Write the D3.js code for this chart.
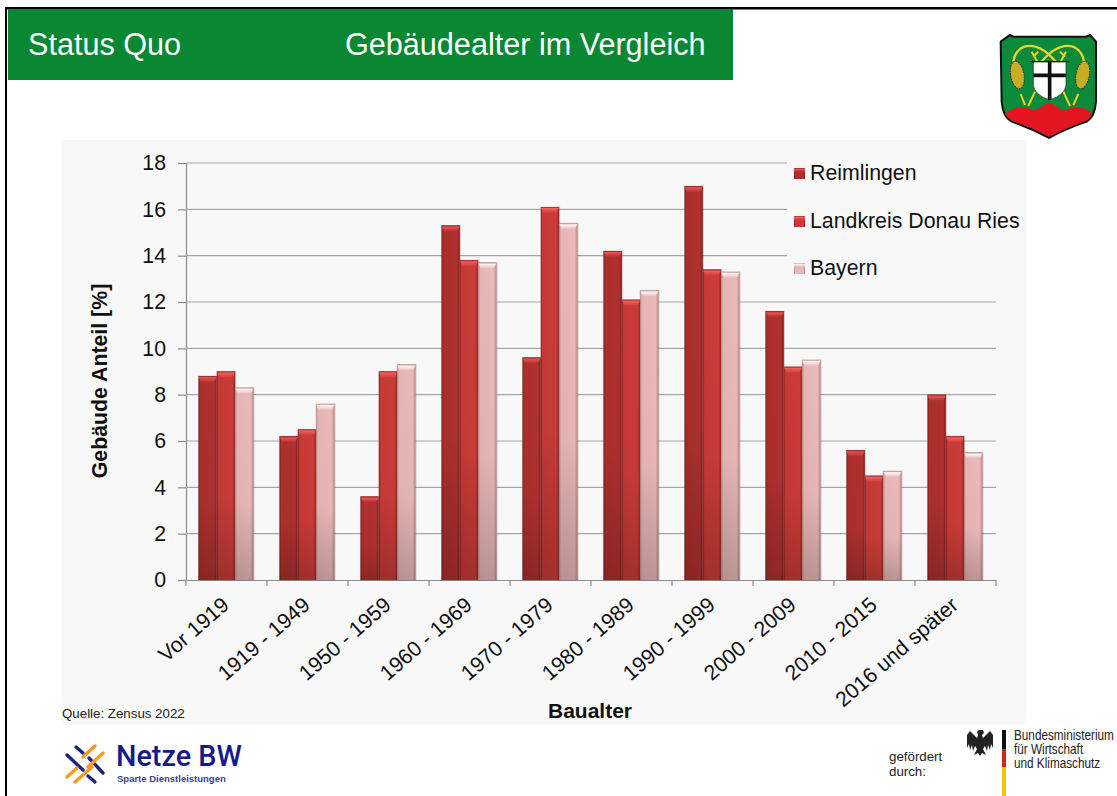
<!DOCTYPE html>
<html><head><meta charset="utf-8">
<script src="https://cdn.jsdelivr.net/npm/d3@7"></script>
<style>html,body{margin:0;padding:0;background:#fff;overflow:hidden}svg{display:block;font-family:"Liberation Sans",Arial,sans-serif}</style>
</head><body><div id="c"></div>
<script>
const categories=["Vor 1919","1919 - 1949","1950 - 1959","1960 - 1969","1970 - 1979","1980 - 1989","1990 - 1999","2000 - 2009","2010 - 2015","2016 und später"];
const seriesNames=["Reimlingen","Landkreis Donau Ries","Bayern"];
const reimlingen=[8.8,6.2,3.6,15.3,9.6,14.2,17.0,11.6,5.6,8.0];
const landkreis=[9.0,6.5,9.0,13.8,16.1,12.1,13.4,9.2,4.5,6.2];
const bayern=[8.3,7.6,9.3,13.7,15.4,12.5,13.3,9.5,4.7,5.5];
const yTicks=[0,2,4,6,8,10,12,14,16,18];
const allSeries=[reimlingen,landkreis,bayern];

const W=1117,H=796;
const svg=d3.select("#c").append("svg").attr("width",W).attr("height",H);
const defs=svg.append("defs");
const pal=[
 {edge:"#7d1f1e",mid:"#ab2f2c",light:"#b03130",top:"#e8524f",id:"a"},
 {edge:"#8f2322",mid:"#c63a36",light:"#cb3c38",top:"#f2605c",id:"b"},
 {edge:"#b98586",mid:"#e6b4b4",light:"#e9baba",top:"#fff4f4",id:"c"}];
pal.forEach(p=>{
  const g=defs.append("linearGradient").attr("id","g"+p.id).attr("x1",0).attr("x2",1).attr("y1",0).attr("y2",0);
  [[0,p.edge],[.1,p.mid],[.85,p.light],[1,p.edge]].forEach(s=>g.append("stop").attr("offset",s[0]).attr("stop-color",s[1]));
  const t=defs.append("linearGradient").attr("id","t"+p.id).attr("x1",0).attr("x2",0).attr("y1",0).attr("y2",1);
  t.append("stop").attr("offset",0).attr("stop-color",p.edge);
  t.append("stop").attr("offset",.25).attr("stop-color",p.top);
  t.append("stop").attr("offset",1).attr("stop-color",p.light);
});
const sh=defs.append("linearGradient").attr("id","shade").attr("x1",0).attr("x2",0).attr("y1",0).attr("y2",1);
sh.append("stop").attr("offset",0).attr("stop-color","#000").attr("stop-opacity",0);
sh.append("stop").attr("offset",.6).attr("stop-color","#000").attr("stop-opacity",.02);
sh.append("stop").attr("offset",1).attr("stop-color","#000").attr("stop-opacity",.2);

// frame
svg.append("rect").attr("x",5).attr("y",7).attr("width",W-5).attr("height",2.5).attr("fill","#000");
svg.append("rect").attr("x",5).attr("y",7).attr("width",2).attr("height",H-7).attr("fill","#000");
svg.append("rect").attr("x",8).attr("y",9).attr("width",725).attr("height",71).attr("fill","#0a8733");
svg.append("text").attr("x",28).attr("y",55).attr("fill","#fff").attr("font-size",30.6).text("Status Quo");
svg.append("text").attr("x",345).attr("y",55).attr("fill","#fff").attr("font-size",30.6).text("Gebäudealter im Vergleich");

// panel
svg.append("rect").attr("x",62).attr("y",140).attr("width",964).attr("height",585).attr("fill","#f8f8f8");

const x=d3.scaleBand().domain(categories).range([186,996]).paddingInner(0).paddingOuter(0);
const y=d3.scaleLinear().domain([0,18]).range([580,163]);
const xs=d3.scaleBand().domain(d3.range(3)).range([0,55]);

const gy=svg.append("g").attr("transform","translate(186,0)")
 .call(d3.axisLeft(y).tickValues(yTicks).tickSize(8).tickPadding(12).tickFormat(d3.format("d")));
gy.select(".domain").attr("stroke","#8c8c8c").attr("stroke-width",1.2);
gy.selectAll(".tick line").attr("stroke","#8c8c8c").attr("stroke-width",1.2);
gy.selectAll("text").attr("font-size",21.3).attr("fill","#111").attr("font-family","Liberation Sans");
svg.append("g").selectAll("line").data(yTicks.filter(d=>d>0)).join("line")
 .attr("x1",186).attr("x2",996).attr("y1",d=>y(d)).attr("y2",d=>y(d)).attr("stroke","#a6a6a6").attr("stroke-width",1.1);

// legend panel hides gridlines
svg.append("rect").attr("x",787).attr("y",150).attr("width",239).attr("height",135).attr("fill","#f8f8f8");

const gx=svg.append("g").attr("transform","translate(0,580)")
 .call(d3.axisBottom(x).tickSize(0).tickFormat(d=>d));
gx.select(".domain").attr("stroke","#8c8c8c").attr("stroke-width",1.2);
gx.selectAll(".tick text").attr("font-size",21.3).attr("fill","#111").attr("font-family","Liberation Sans")
 .attr("text-anchor","end").attr("dy",0).attr("y",0)
 .attr("transform","translate(4,27) rotate(-41)");
svg.append("g").selectAll("line").data(d3.range(11)).join("line")
 .attr("x1",i=>186+i*x.step()).attr("x2",i=>186+i*x.step()).attr("y1",580).attr("y2",586)
 .attr("stroke","#8c8c8c").attr("stroke-width",1.2);

// bars
const bars=svg.append("g");
allSeries.forEach((vals,si)=>{
  const p=pal[si];
  const g=bars.append("g");
  const bx=(c)=>x(c)+12.5+xs(si);
  g.selectAll("rect.shadow").data(categories).join("rect").attr("class","shadow")
   .attr("x",c=>bx(c)-.5).attr("width",xs.bandwidth()+1.5)
   .attr("y",(c,i)=>y(vals[i])-.5).attr("height",(c,i)=>580-y(vals[i])+1.5)
   .attr("fill","#8a6a6a").attr("opacity",.35);
  g.selectAll("rect.body").data(categories).join("rect").attr("class","body")
   .attr("x",bx).attr("width",xs.bandwidth())
   .attr("y",(c,i)=>y(vals[i])).attr("height",(c,i)=>580-y(vals[i]))
   .attr("fill","url(#g"+p.id+")");
  g.selectAll("rect.over").data(categories).join("rect").attr("class","over")
   .attr("x",bx).attr("width",xs.bandwidth())
   .attr("y",(c,i)=>y(vals[i])).attr("height",(c,i)=>580-y(vals[i]))
   .attr("fill","url(#shade)");
  g.selectAll("path.bevel").data(categories).join("path").attr("class","bevel")
   .attr("d",(c,i)=>{const l=bx(c),w=xs.bandwidth(),t=y(vals[i]);
     return `M${l},${t}H${l+w}L${l+w-2.5},${t+6}H${l+2.5}Z`;})
   .attr("fill","url(#t"+p.id+")");
});

// legend
const ly=[173,221,268];
const lg=svg.append("g").selectAll("g").data(seriesNames).join("g").attr("transform",(d,i)=>`translate(794,${ly[i]})`);
lg.append("rect").attr("x",0).attr("y",-5).attr("width",11).attr("height",11).attr("fill",(d,i)=>"url(#g"+pal[i].id+")");
lg.append("rect").attr("x",0).attr("y",-5).attr("width",11).attr("height",4).attr("fill",(d,i)=>"url(#t"+pal[i].id+")");
lg.append("text").attr("x",16).attr("y",7).attr("font-size",21.3).attr("fill","#111").text(d=>d);

// axis titles
svg.append("text").attr("transform","translate(107,381) rotate(-90)").attr("text-anchor","middle")
 .attr("font-size",21.3).attr("font-weight","bold").attr("fill","#111").text("Gebäude Anteil  [%]");
svg.append("text").attr("x",590).attr("y",718).attr("text-anchor","middle")
 .attr("font-size",21).attr("font-weight","bold").attr("fill","#111").text("Baualter");
svg.append("text").attr("x",62).attr("y",718).attr("font-size",13.3).attr("fill","#222").text("Quelle: Zensus 2022");

// coat of arms, drawn in a 3x space
const coa=svg.append("g").attr("transform","translate(980,20) scale(0.3333)");
coa.append("path").attr("d","M62,65 L90,45 L100,50 H318 L330,45 L348,65 V245 Q345,290 320,305 Q260,325 207,354 Q155,325 95,305 Q68,290 65,245Z").attr("fill","#0a8a3a").attr("stroke","#111").attr("stroke-width",6);
coa.append("path").attr("d","M76,284 C90,262 130,255 160,270 C175,273 190,250 207,250 C225,250 240,273 255,270 C285,255 325,262 336,284 Q328,296 318,302 Q260,322 207,350 Q155,322 97,302 Q84,296 76,284Z").attr("fill","#e3161f");
coa.append("path").attr("d","M100,125 C110,65 175,55 235,135 M312,125 C302,65 237,55 177,135").attr("fill","none").attr("stroke","#ecd22a").attr("stroke-width",7);
[[112,165,-10],[308,165,10]].forEach(e=>coa.append("ellipse").attr("cx",e[0]).attr("cy",e[1]).attr("rx",20).attr("ry",42).attr("transform",`rotate(${e[2]},${e[0]},${e[1]})`).attr("fill","#c6ad24").attr("stroke","#333").attr("stroke-width",3).attr("stroke-dasharray","5 3"));
coa.append("path").attr("d","M122,222 L135,255 M165,215 L145,258 M295,222 L280,255 M250,215 L270,258 M155,95 L172,125 M175,95 L160,110 M258,95 L242,125 M240,95 L255,110").attr("fill","none").attr("stroke","#ecd22a").attr("stroke-width",6);
coa.append("path").attr("d","M160,125 H258 V195 Q255,225 209,240 Q163,225 160,195Z").attr("fill","#fff").attr("stroke","#222").attr("stroke-width",2);
coa.append("path").attr("d","M209,125 V240 M160,166 H258").attr("stroke","#111").attr("stroke-width",11);
coa.append("path").attr("d","M150,125 H268").attr("stroke","#111").attr("stroke-width",4);

// Netze BW logo
const nzLines=[[76,747,83,753,"#1a237e"],[67,755,83,770,"#1a237e"],[89,758,103,773,"#1a237e"],[88,776,95,782,"#1a237e"],[83,757,95,746,"#f59a23"],[88,767,103,753,"#f59a23"],[67,777,77,768,"#f59a23"],[75,782,92,767,"#f59a23"]];
svg.append("g").selectAll("line").data(nzLines).join("line").attr("x1",d=>d[0]).attr("y1",d=>d[1]).attr("x2",d=>d[2]).attr("y2",d=>d[3]).attr("stroke",d=>d[4]).attr("stroke-width",3.4).attr("stroke-linecap","round");
svg.append("text").attr("x",116).attr("y",766).attr("font-size",28.8).attr("font-family","Roboto").attr("font-weight",500).attr("fill","#151a8a").text("Netze BW");
svg.append("text").attr("x",117).attr("y",782).attr("font-size",9.5).attr("font-weight","bold").attr("fill","#3a3f9a").text("Sparte Dienstleistungen");

// BMWK
svg.append("text").attr("x",889).attr("y",761).attr("font-size",13.3).attr("fill","#222").text("gefördert");
svg.append("text").attr("x",889).attr("y",776).attr("font-size",13.3).attr("fill","#222").text("durch:");
const eagle=svg.append("g").attr("transform","translate(980,742)");
eagle.append("path").attr("d","M-3,-10 L-1,-12 L3,-12 L4,-9 L2,-7 L3,-4 L8,-9 L10,-11 L13,-7 V6 L11,2 L10,8 L8,3 L7,9 L5,4 L3,7 L6,13 L2,11 L0,14 L-2,11 L-6,13 L-3,7 L-5,4 L-7,9 L-8,3 L-10,8 L-11,2 L-13,6 V-7 L-10,-11 L-8,-9 L-3,-4 L-2,-7Z").attr("fill","#222");
[["#111",730,19],["#d8201f",749,18],["#f2c414",767,29]].forEach(s=>svg.append("rect").attr("x",1002).attr("y",s[1]).attr("width",4).attr("height",s[2]).attr("fill",s[0]));
["Bundesministerium","für Wirtschaft","und Klimaschutz"].forEach((t,i)=>svg.append("text").attr("transform",`translate(1014,${740+i*14}) scale(0.84,1)`).attr("font-size",14).attr("fill","#222").text(t));
</script></body></html>
